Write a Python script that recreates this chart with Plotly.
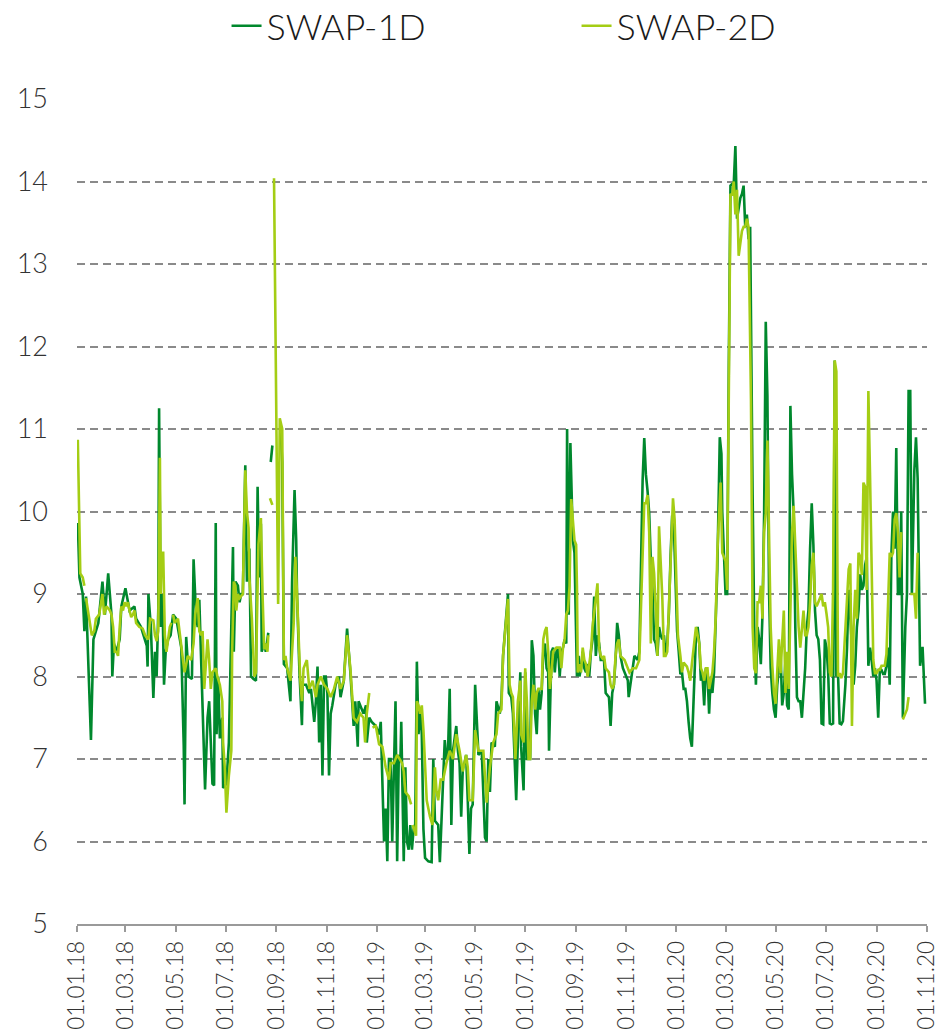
import plotly.graph_objects as go

# SWAP-1D observations (date, value)
dates_1d = [
    "2018-01-02", "2018-01-04", "2018-01-08", "2018-01-10", "2018-01-12", "2018-01-18", "2018-01-21", "2018-01-27",
    "2018-02-01", "2018-02-04", "2018-02-08", "2018-02-12", "2018-02-13", "2018-02-15", "2018-02-18", "2018-02-22",
    "2018-02-24", "2018-03-01", "2018-03-06", "2018-03-12", "2018-03-14", "2018-03-20", "2018-03-27", "2018-03-28",
    "2018-03-29", "2018-04-01", "2018-04-04", "2018-04-06", "2018-04-08", "2018-04-10", "2018-04-11", "2018-04-13",
    "2018-04-15", "2018-04-17", "2018-04-19", "2018-04-22", "2018-04-25", "2018-04-28", "2018-05-02", "2018-05-08",
    "2018-05-11", "2018-05-12", "2018-05-14", "2018-05-17", "2018-05-21", "2018-05-23", "2018-05-26", "2018-05-28",
    "2018-05-30", "2018-06-01", "2018-06-03", "2018-06-06", "2018-06-09", "2018-06-11", "2018-06-13", "2018-06-15",
    "2018-06-17", "2018-06-19", "2018-06-20", "2018-06-22", "2018-06-24", "2018-06-27", "2018-06-28", "2018-07-02",
    "2018-07-05", "2018-07-10", "2018-07-11", "2018-07-13", "2018-07-16", "2018-07-18", "2018-07-20", "2018-07-22",
    "2018-07-25", "2018-07-27", "2018-07-30", "2018-08-01", "2018-08-04", "2018-08-07", "2018-08-09", "2018-08-11",
    "2018-08-13", "2018-08-14", "2018-08-17", "2018-08-19", "2018-08-21", "2018-08-22", "2018-08-23", "2018-08-25",
    "2018-08-27", "2018-08-29", "2018-09-06", "2018-09-08", "2018-09-10", "2018-09-14", "2018-09-18", "2018-09-20",
    "2018-09-23", "2018-09-25", "2018-09-26", "2018-09-29", "2018-10-02", "2018-10-03", "2018-10-07", "2018-10-11",
    "2018-10-13", "2018-10-15", "2018-10-17", "2018-10-19", "2018-10-21", "2018-10-23", "2018-10-25", "2018-10-27",
    "2018-10-29", "2018-10-31", "2018-11-02", "2018-11-04", "2018-11-06", "2018-11-08", "2018-11-12", "2018-11-16",
    "2018-11-18", "2018-11-22", "2018-11-26", "2018-11-30", "2018-12-04", "2018-12-06", "2018-12-09", "2018-12-10",
    "2018-12-14", "2018-12-16", "2018-12-19", "2018-12-20", "2018-12-23", "2018-12-26", "2018-12-31",
    "2019-01-04", "2019-01-06", "2019-01-08", "2019-01-10", "2019-01-12", "2019-01-14", "2019-01-16", "2019-01-18",
    "2019-01-20", "2019-01-22", "2019-01-24", "2019-01-26", "2019-01-28", "2019-01-30", "2019-01-31", "2019-02-03",
    "2019-02-05", "2019-02-07", "2019-02-09", "2019-02-11", "2019-02-13", "2019-02-15", "2019-02-17", "2019-02-19",
    "2019-02-21", "2019-02-23", "2019-02-25", "2019-02-27", "2019-03-01", "2019-03-05", "2019-03-09", "2019-03-11",
    "2019-03-13", "2019-03-17", "2019-03-19", "2019-03-23", "2019-03-25", "2019-03-27", "2019-03-29", "2019-03-31",
    "2019-04-02", "2019-04-04", "2019-04-08", "2019-04-10", "2019-04-12", "2019-04-14", "2019-04-16", "2019-04-18",
    "2019-04-20", "2019-04-22", "2019-04-24", "2019-04-26", "2019-04-28", "2019-05-01", "2019-05-05", "2019-05-09",
    "2019-05-13", "2019-05-15", "2019-05-17", "2019-05-19", "2019-05-21", "2019-05-25", "2019-05-27", "2019-05-31",
    "2019-06-02", "2019-06-04", "2019-06-06", "2019-06-08", "2019-06-10", "2019-06-11", "2019-06-14", "2019-06-16",
    "2019-06-18", "2019-06-20", "2019-06-22", "2019-06-25", "2019-06-26", "2019-06-29", "2019-07-01", "2019-07-03",
    "2019-07-07", "2019-07-09", "2019-07-11", "2019-07-13", "2019-07-15", "2019-07-17", "2019-07-19", "2019-07-21",
    "2019-07-23", "2019-07-25", "2019-07-27", "2019-07-29", "2019-07-30", "2019-08-02", "2019-08-04", "2019-08-06",
    "2019-08-08", "2019-08-10", "2019-08-12", "2019-08-14", "2019-08-16", "2019-08-18", "2019-08-20", "2019-08-21",
    "2019-08-23", "2019-08-25", "2019-08-28", "2019-08-30", "2019-09-02", "2019-09-04", "2019-09-05", "2019-09-07",
    "2019-09-09", "2019-09-11", "2019-09-13", "2019-09-15", "2019-09-17", "2019-09-19", "2019-09-21", "2019-09-23",
    "2019-09-25", "2019-09-27", "2019-09-29", "2019-10-01", "2019-10-05", "2019-10-07", "2019-10-11", "2019-10-13",
    "2019-10-15", "2019-10-17", "2019-10-19", "2019-10-21", "2019-10-23", "2019-10-25", "2019-10-28", "2019-10-30",
    "2019-11-01", "2019-11-03", "2019-11-04", "2019-11-06", "2019-11-08", "2019-11-11", "2019-11-15", "2019-11-17",
    "2019-11-19", "2019-11-21", "2019-11-23", "2019-11-25", "2019-11-27", "2019-11-29", "2019-12-01", "2019-12-03",
    "2019-12-05", "2019-12-07", "2019-12-09", "2019-12-11", "2019-12-13", "2019-12-15", "2019-12-17", "2019-12-19",
    "2019-12-21", "2019-12-23", "2019-12-25", "2019-12-27", "2019-12-29", "2019-12-31",
    "2020-01-02", "2020-01-04", "2020-01-06", "2020-01-08", "2020-01-10", "2020-01-12", "2020-01-14", "2020-01-16",
    "2020-01-18", "2020-01-20", "2020-01-23", "2020-01-25", "2020-01-27", "2020-01-29", "2020-01-31", "2020-02-02",
    "2020-02-04", "2020-02-06", "2020-02-08", "2020-02-10", "2020-02-12", "2020-02-14", "2020-02-16", "2020-02-18",
    "2020-02-20", "2020-02-22", "2020-02-23", "2020-02-25", "2020-02-26", "2020-02-28", "2020-03-01", "2020-03-03",
    "2020-03-04", "2020-03-05", "2020-03-07", "2020-03-09", "2020-03-11", "2020-03-13", "2020-03-15", "2020-03-17",
    "2020-03-19", "2020-03-21", "2020-03-23", "2020-03-25", "2020-03-27", "2020-03-29", "2020-03-31", "2020-04-03",
    "2020-04-05", "2020-04-07", "2020-04-09", "2020-04-11", "2020-04-13", "2020-04-15", "2020-04-17", "2020-04-19",
    "2020-04-21", "2020-04-23", "2020-04-25", "2020-04-27", "2020-04-29", "2020-05-01", "2020-05-03", "2020-05-05",
    "2020-05-07", "2020-05-09", "2020-05-11", "2020-05-13", "2020-05-15", "2020-05-17", "2020-05-19", "2020-05-21",
    "2020-05-23", "2020-05-25", "2020-05-27", "2020-05-29", "2020-05-31", "2020-06-02", "2020-06-04", "2020-06-06",
    "2020-06-08", "2020-06-10", "2020-06-12", "2020-06-14", "2020-06-16", "2020-06-18", "2020-06-20", "2020-06-22",
    "2020-06-24", "2020-06-26", "2020-06-28", "2020-06-30", "2020-07-02", "2020-07-04", "2020-07-06", "2020-07-08",
    "2020-07-10", "2020-07-12", "2020-07-14", "2020-07-16", "2020-07-18", "2020-07-20", "2020-07-22", "2020-07-25",
    "2020-07-27", "2020-07-29", "2020-07-31", "2020-08-02", "2020-08-04", "2020-08-06", "2020-08-08", "2020-08-10",
    "2020-08-12", "2020-08-14", "2020-08-16", "2020-08-18", "2020-08-20", "2020-08-22", "2020-08-24", "2020-08-26",
    "2020-08-28", "2020-08-30", "2020-09-01", "2020-09-03", "2020-09-05", "2020-09-07", "2020-09-09", "2020-09-11",
    "2020-09-13", "2020-09-15", "2020-09-17", "2020-09-19", "2020-09-21", "2020-09-23", "2020-09-25", "2020-09-27",
    "2020-09-29", "2020-10-01", "2020-10-03", "2020-10-06", "2020-10-08", "2020-10-10", "2020-10-12", "2020-10-14",
    "2020-10-17", "2020-10-19", "2020-10-21", "2020-10-24", "2020-10-27", "2020-10-30",
]
swap_1d = [
    9.86, 9.2, 9.0, 8.55, 8.97, 7.23, 8.45, 8.65,
    9.15, 8.75, 9.25, 8.75, 8.0, 8.4, 8.3, 8.45,
    8.85, 9.07, 8.8, 8.85, 8.7, 8.6, 8.37, 8.12,
    9.0, 8.6, 7.74, 8.3, 8.0, 8.8, 11.25, 8.6,
    9.0, 7.9, 8.3, 8.45, 8.5, 8.75, 8.7, 8.35,
    7.17, 6.45, 8.48, 8.0, 7.97, 9.42, 8.75, 8.6,
    8.93, 8.35, 7.62, 6.63, 7.5, 7.7, 7.2, 6.7,
    6.68, 9.86, 7.3, 8.0, 7.25, 7.5, 6.65, 6.7,
    7.2, 9.57, 8.3, 9.15, 9.1, 8.9, 9.0, 9.0,
    10.56, 9.15, 9.55, 8.0, 7.97, 7.95, 10.3, 9.2,
    9.85, 8.3, 8.4, 8.3, 8.45, 8.53, None, 10.6,
    10.8, None, 11.0, 10.6, 8.15, 8.1, 7.7, 9.15,
    10.26, 9.66, 9.0, 8.05, 7.41, 7.9, 7.9, 7.8,
    7.85, 7.6, 7.45, 7.7, 8.12, 7.2, 7.9, 6.8,
    8.0, 8.0, 7.8, 6.8, 7.55, 7.65, 7.9, 8.0,
    7.75, 7.95, 8.58, 8.05, 7.4, 7.7, 7.15, 7.7,
    7.6, 7.55, 7.65, 7.2, 7.5, 7.45, 7.4,
    7.3, 7.45, 6.55, 6.0, 6.4, 5.76, 7.0, 7.0,
    6.0, 7.0, 7.7, 5.76, 7.05, 7.0, 7.45, 5.76,
    6.9, 6.0, 5.9, 6.2, 5.9, 6.15, 6.2, 8.18,
    7.3, 7.6, 7.3, 6.15, 5.8, 5.76, 5.75, 7.0,
    6.25, 6.2, 5.75, 6.75, 7.23, 7.0, 7.1, 7.85,
    6.2, 7.1, 7.4, 7.1, 6.95, 6.3, 6.9, 6.95,
    7.05, 6.5, 5.85, 6.4, 6.45, 7.9, 7.05, 7.1,
    6.05, 6.0, 7.0, 6.6, 7.2, 7.15, 7.7, 7.55,
    7.7, 8.25, 8.5, 8.77, 9.0, 7.8, 7.75, 7.55,
    6.95, 6.5, 7.2, 8.05, 7.15, 6.62, 8.05, 7.0,
    7.0, 8.44, 8.25, 7.55, 7.3, 7.85, 7.6, 7.8,
    8.3, 8.4, 8.1, 8.05, 7.1, 8.3, 8.35, 8.05,
    8.3, 8.35, 8.0, 8.3, 8.35, 8.45, 8.4, 11.0,
    8.75, 10.83, 9.65, 9.5, 8.0, 8.25, 8.0, 8.1,
    8.3, 8.1, 8.05, 8.15, 8.0, 8.3, 8.45, 8.97,
    8.25, 8.5, 8.4, 8.2, 8.2, 7.8, 7.75, 7.4,
    7.8, 7.9, 8.2, 8.65, 8.5, 8.25, 8.1, 8.05,
    8.0, 7.95, 7.75, 7.9, 8.05, 8.25, 8.2, 8.3,
    9.33, 10.38, 10.89, 10.45, 10.25, 9.98, 9.4, 9.05,
    8.45, 8.4, 8.25, 8.6, 8.5, 8.45, 8.5, 8.25,
    8.4, 8.77, 9.45, 9.95, 9.85, 9.25,
    8.55, 8.3, 8.03, 8.05, 7.85, 7.85, 7.7, 7.45,
    7.25, 7.15, 8.05, 8.5, 8.6, 8.4, 7.95, 8.0,
    7.65, 8.1, 8.05, 7.55, 8.0, 7.8, 8.05, 8.6,
    9.3, 10.35, 10.9, 10.7, 10.0, 9.5, 9.0, 9.0,
    10.0, 11.8, 13.95, 13.97, 13.97, 14.43, 13.55, 13.7,
    13.8, 13.85, 13.95, 13.45, 13.6, 13.3, 13.45, 10.2,
    8.6, 7.9, 8.6, 8.45, 8.15, 8.75, 9.95, 12.3,
    11.4, 9.05, 8.1, 7.8, 7.6, 7.5, 7.9, 8.1,
    8.3, 7.65, 7.8, 8.2, 7.65, 7.6, 11.28, 10.45,
    9.98, 8.6, 7.75, 7.7, 7.7, 7.5, 7.8, 8.1,
    8.6, 8.8, 9.55, 10.1, 9.6, 8.8, 8.5, 8.45,
    8.2, 7.43, 7.42, 8.45, 8.35, 8.05, 7.43, 7.42,
    7.43, 11.83, 8.0, 8.04, 7.43, 7.42, 7.46, 7.9,
    8.35, 9.05, 8.75, 8.35, 7.9, 8.13, 8.6, 8.8,
    9.24, 9.05, 9.1, 9.35, 9.45, 8.13, 8.35, 8.2,
    8.0, 8.1, 7.95, 7.5, 8.1, 8.08, 8.03, 8.03,
    8.13, 8.35, 7.9, 9.47, 10.0, 9.55, 10.77, 9.0,
    9.0, 10.0, 7.5, 8.6, 9.0, 11.46, 11.46, 9.0,
    10.5, 10.9, 10.4, 8.13, 8.36, 7.67,
]

# SWAP-2D observations (date, value)
dates_2d = [
    "2018-01-02", "2018-01-05", "2018-01-08", "2018-01-10", "2018-01-11", "2018-01-12", "2018-01-16", "2018-01-19",
    "2018-01-22", "2018-01-24", "2018-01-28", "2018-02-01", "2018-02-03", "2018-02-06", "2018-02-10", "2018-02-12",
    "2018-02-14", "2018-02-16", "2018-02-18", "2018-02-20", "2018-02-22", "2018-02-24", "2018-02-26", "2018-02-28",
    "2018-03-02", "2018-03-04", "2018-03-06", "2018-03-08", "2018-03-10", "2018-03-12", "2018-03-14", "2018-03-18",
    "2018-03-22", "2018-03-25", "2018-03-29", "2018-03-31", "2018-04-04", "2018-04-06", "2018-04-08", "2018-04-10",
    "2018-04-12", "2018-04-13", "2018-04-14", "2018-04-16", "2018-04-18", "2018-04-20", "2018-04-22", "2018-04-24",
    "2018-04-26", "2018-04-27", "2018-04-28", "2018-04-30", "2018-05-04", "2018-05-08", "2018-05-12", "2018-05-16",
    "2018-05-20", "2018-05-23", "2018-05-25", "2018-05-28", "2018-05-30", "2018-06-01", "2018-06-03", "2018-06-05",
    "2018-06-07", "2018-06-09", "2018-06-11", "2018-06-13", "2018-06-15", "2018-06-19", "2018-06-21", "2018-06-24",
    "2018-06-27", "2018-06-28", "2018-06-30", "2018-07-02", "2018-07-05", "2018-07-08", "2018-07-09", "2018-07-11",
    "2018-07-13", "2018-07-14", "2018-07-16", "2018-07-18", "2018-07-22", "2018-07-23", "2018-07-25", "2018-07-27",
    "2018-07-29", "2018-07-30", "2018-08-02", "2018-08-05", "2018-08-07", "2018-08-10", "2018-08-13", "2018-08-15",
    "2018-08-17", "2018-08-19", "2018-08-21", "2018-08-22", "2018-08-23", "2018-08-24", "2018-08-27", "2018-08-28",
    "2018-08-29", "2018-09-03", "2018-09-05", "2018-09-08", "2018-09-10", "2018-09-12", "2018-09-14", "2018-09-18",
    "2018-09-22", "2018-09-24", "2018-09-26", "2018-09-30", "2018-10-02", "2018-10-04", "2018-10-08", "2018-10-11",
    "2018-10-15", "2018-10-17", "2018-10-19", "2018-10-21", "2018-10-25", "2018-10-29", "2018-11-02", "2018-11-06",
    "2018-11-10", "2018-11-14", "2018-11-18", "2018-11-22", "2018-11-26", "2018-11-30", "2018-12-04", "2018-12-08",
    "2018-12-12", "2018-12-16", "2018-12-18", "2018-12-20", "2018-12-23", "2018-12-25", "2018-12-27", "2018-12-31",
    "2019-01-04", "2019-01-08", "2019-01-12", "2019-01-16", "2019-01-18", "2019-01-22", "2019-01-26", "2019-01-29",
    "2019-02-01", "2019-02-03", "2019-02-05", "2019-02-09", "2019-02-12", "2019-02-13", "2019-02-14", "2019-02-18",
    "2019-02-19", "2019-02-21", "2019-02-23", "2019-02-25", "2019-02-27", "2019-03-01", "2019-03-03", "2019-03-07",
    "2019-03-10", "2019-03-13", "2019-03-15", "2019-03-17", "2019-03-20", "2019-03-23", "2019-03-27", "2019-03-31",
    "2019-04-04", "2019-04-08", "2019-04-12", "2019-04-16", "2019-04-20", "2019-04-22", "2019-04-24", "2019-04-28",
    "2019-05-01", "2019-05-05", "2019-05-11", "2019-05-15", "2019-05-19", "2019-05-23", "2019-05-27", "2019-05-29",
    "2019-06-02", "2019-06-04", "2019-06-06", "2019-06-08", "2019-06-10", "2019-06-12", "2019-06-14", "2019-06-16",
    "2019-06-19", "2019-06-21", "2019-06-22", "2019-06-25", "2019-06-26", "2019-06-29", "2019-07-01", "2019-07-03",
    "2019-07-05", "2019-07-07", "2019-07-09", "2019-07-11", "2019-07-13", "2019-07-15", "2019-07-17", "2019-07-21",
    "2019-07-23", "2019-07-25", "2019-07-27", "2019-07-29", "2019-07-31", "2019-08-02", "2019-08-04", "2019-08-08",
    "2019-08-12", "2019-08-14", "2019-08-16", "2019-08-18", "2019-08-20", "2019-08-22", "2019-08-24", "2019-08-26",
    "2019-08-28", "2019-08-30", "2019-09-01", "2019-09-02", "2019-09-03", "2019-09-05", "2019-09-07", "2019-09-09",
    "2019-09-11", "2019-09-13", "2019-09-15", "2019-09-17", "2019-09-19", "2019-09-21", "2019-09-23", "2019-09-25",
    "2019-09-27", "2019-09-29", "2019-10-01", "2019-10-03", "2019-10-05", "2019-10-07", "2019-10-11", "2019-10-13",
    "2019-10-15", "2019-10-17", "2019-10-19", "2019-10-21", "2019-10-23", "2019-10-25", "2019-10-30", "2019-11-03",
    "2019-11-05", "2019-11-09", "2019-11-13", "2019-11-17", "2019-11-19", "2019-11-21", "2019-11-23", "2019-11-25",
    "2019-11-27", "2019-11-29", "2019-12-01", "2019-12-03", "2019-12-05", "2019-12-07", "2019-12-09", "2019-12-11",
    "2019-12-13", "2019-12-15", "2019-12-17", "2019-12-19", "2019-12-21", "2019-12-23", "2019-12-25", "2019-12-28",
    "2019-12-30",
    "2020-01-01", "2020-01-03", "2020-01-06", "2020-01-08", "2020-01-10", "2020-01-12", "2020-01-14", "2020-01-16",
    "2020-01-18", "2020-01-20", "2020-01-23", "2020-01-25", "2020-01-27", "2020-01-29", "2020-01-31", "2020-02-02",
    "2020-02-04", "2020-02-06", "2020-02-08", "2020-02-10", "2020-02-12", "2020-02-14", "2020-02-16", "2020-02-18",
    "2020-02-20", "2020-02-22", "2020-02-24", "2020-02-26", "2020-02-28", "2020-03-01", "2020-03-03", "2020-03-05",
    "2020-03-07", "2020-03-09", "2020-03-11", "2020-03-13", "2020-03-15", "2020-03-17", "2020-03-19", "2020-03-21",
    "2020-03-23", "2020-03-25", "2020-03-27", "2020-03-29", "2020-04-01", "2020-04-03", "2020-04-05", "2020-04-07",
    "2020-04-09", "2020-04-11", "2020-04-13", "2020-04-15", "2020-04-17", "2020-04-19", "2020-04-21", "2020-04-23",
    "2020-04-25", "2020-04-27", "2020-04-29", "2020-05-01", "2020-05-03", "2020-05-05", "2020-05-07", "2020-05-09",
    "2020-05-11", "2020-05-13", "2020-05-15", "2020-05-17", "2020-05-19", "2020-05-21", "2020-05-23", "2020-05-25",
    "2020-05-27", "2020-05-29", "2020-05-31", "2020-06-02", "2020-06-04", "2020-06-06", "2020-06-08", "2020-06-10",
    "2020-06-12", "2020-06-14", "2020-06-16", "2020-06-18", "2020-06-20", "2020-06-22", "2020-06-24", "2020-06-26",
    "2020-06-28", "2020-06-30", "2020-07-02", "2020-07-04", "2020-07-06", "2020-07-08", "2020-07-10", "2020-07-12",
    "2020-07-14", "2020-07-16", "2020-07-18", "2020-07-20", "2020-07-22", "2020-07-25", "2020-07-27", "2020-07-29",
    "2020-07-31", "2020-08-02", "2020-08-04", "2020-08-06", "2020-08-08", "2020-08-10", "2020-08-12", "2020-08-14",
    "2020-08-16", "2020-08-18", "2020-08-20", "2020-08-22", "2020-08-24", "2020-08-26", "2020-08-28", "2020-08-30",
    "2020-09-01", "2020-09-03", "2020-09-05", "2020-09-07", "2020-09-09", "2020-09-11", "2020-09-13", "2020-09-15",
    "2020-09-17", "2020-09-19", "2020-09-21", "2020-09-23", "2020-09-25", "2020-09-27", "2020-09-29", "2020-10-01",
    "2020-10-02", "2020-10-03", "2020-10-08", "2020-10-10", "2020-10-11", "2020-10-12", "2020-10-14", "2020-10-17",
    "2020-10-19", "2020-10-21",
]
swap_2d = [
    10.87, 9.25, 9.2, 9.1, None, 8.95, 8.7, 8.5,
    8.55, 8.7, 8.75, 9.0, 8.75, 8.85, 8.8, 8.75,
    8.6, 8.3, 8.3, 8.25, 8.6, 8.85, 8.8, 8.9,
    8.85, 8.9, 8.8, 8.72, 8.75, 8.8, 8.65, 8.6,
    8.58, 8.5, 8.45, 8.7, 8.68, 8.5, 8.43, 8.55,
    10.65, 9.0, 9.5, 9.5, 8.5, 8.3, 8.45, 8.6,
    8.65, None, 8.75, 8.65, 8.7, 8.4, 8.05, 8.25,
    8.2, 8.4, 8.75, 8.95, 8.55, 8.5, 8.55, 7.85,
    8.1, 8.45, 8.2, 7.85, 8.05, 8.1, 8.0, 7.9,
    7.7, 7.2, 6.9, 6.35, 6.8, 7.1, 8.3, 9.15,
    9.1, 8.8, 9.0, 8.95, 9.0, 9.5, 10.5, 10.0,
    9.8, 9.2, 8.7, 8.0, 8.05, 9.6, 9.92, 9.0,
    8.33, 8.4, 8.3, 8.5, None, 10.16, 10.08, None,
    14.04, 8.88, 11.13, 11.0, 8.2, 8.25, 8.1, 7.95,
    8.65, 9.45, 9.0, 7.95, 7.7, 8.1, 8.2, 7.85,
    7.95, 7.85, 7.75, 7.9, 8.0, 7.9, 7.85, 7.75,
    7.85, 8.0, 7.85, 7.95, 8.5, 8.1, 7.5, 7.45,
    7.55, 7.5, 7.2, 7.55, 7.8, None, 7.38, 7.4,
    7.18, 7.15, 6.9, 6.75, 6.95, 6.95, 7.05, 7.0,
    6.95, 6.85, 6.6, 6.55, 6.45, None, 6.2, 6.07,
    7.7, 7.65, 7.55, 7.65, 7.35, 6.9, 6.5, 6.3,
    6.2, 6.9, 6.6, 6.5, 6.75, 6.75, 6.95, 7.1,
    7.0, 7.3, 7.1, 6.85, 7.05, 6.9, 6.5, 6.5,
    7.35, 7.1, 7.1, 6.47, 6.9, 7.2, 7.3, 7.55,
    7.6, 8.25, 8.45, 8.65, 8.94, 7.9, 7.8, 7.75,
    7.0, 7.45, 7.7, 7.95, 7.3, 7.2, 8.1, 7.7,
    7.0, 7.0, 7.7, 7.9, 7.6, 7.8, 7.85, 7.85,
    8.45, 8.55, 8.6, 8.3, 7.85, 8.05, 8.3, 8.35,
    8.35, 8.1, 8.35, 8.45, 8.75, 8.8, 9.1, 10.15,
    9.9, 9.65, 9.6, 9.1, 8.05, 8.15, 8.05, 8.35,
    8.2, 8.15, 8.0, 8.15, 8.3, 8.6, 8.75, 8.95,
    9.13, 8.35, 8.25, 8.22, 8.25, 8.1, 8.05, 7.9,
    7.85, 7.9, 8.25, 8.4, 8.45, 8.25, 8.2, 8.1,
    8.05, 8.1, 8.1, 8.2, 8.95, 9.5, 10.1, 10.1,
    10.2, 9.75, 8.4, 9.45, 9.25, 8.8, 8.25, 9.82,
    9.35, 8.95, 8.25, 8.25, 8.3, 8.8, 9.5, 10.16,
    9.9,
    9.25, 8.5, 8.25, 8.05, 8.17, 8.15, 8.12, 8.05,
    7.95, 8.15, 8.4, 8.6, 8.5, 8.4, 8.1, 8.05,
    7.95, 8.1, 8.1, 7.85, 7.95, 8.05, 8.3, 8.7,
    9.5, 10.0, 10.35, 9.5, 9.45, 9.4, 9.05, 11.5,
    13.85, 13.83, 14.0, 13.6, 13.9, 13.1, 13.25, 13.4,
    13.45, 13.45, 13.55, 13.45, 11.35, 8.6, 8.1, 8.04,
    8.9, 8.9, 9.1, 8.7, 9.75, 9.98, 10.86, 9.5,
    8.6, 8.13, 7.8, 7.67, 8.04, 8.45, 8.04, 8.45,
    8.8, 7.8, 8.3, 7.85, 8.65, 9.75, 10.07, 9.55,
    9.05, 8.6, 8.35, 8.6, 8.8, 8.5, 8.5, 8.6,
    8.9, 9.35, 9.5, 8.9, 8.85, 8.9, 8.95, 9.0,
    8.85, 8.9, 8.76, 8.6, 8.05, 8.0, 9.05, 11.83,
    11.7, 8.0, 8.04, 7.98, 8.04, 8.6, 9.05, 9.3,
    9.37, 7.4, 8.6, 9.05, 8.7, 9.5, 9.45, 9.23,
    10.35, 10.3, 9.05, 11.46, 10.45, 9.5, 8.2, 8.04,
    8.04, 8.08, 8.08, 8.13, 8.13, 8.13, 8.27, 9.05,
    9.5, 9.45, 9.5, 9.9, 9.98, 9.75, 9.2, 9.75,
    None, 7.48, 7.6, 7.75, None, 9.0, 9.0, 9.0,
    8.7, 9.5,
]

# Axis ticks: every second month
tick_dates = [
    "2018-01-01", "2018-03-01", "2018-05-01", "2018-07-01", "2018-09-01", "2018-11-01",
    "2019-01-01", "2019-03-01", "2019-05-01", "2019-07-01", "2019-09-01", "2019-11-01",
    "2020-01-01", "2020-03-01", "2020-05-01", "2020-07-01", "2020-09-01", "2020-11-01",
]
tick_labels = [
    "01.01.18", "01.03.18", "01.05.18", "01.07.18", "01.09.18", "01.11.18",
    "01.01.19", "01.03.19", "01.05.19", "01.07.19", "01.09.19", "01.11.19",
    "01.01.20", "01.03.20", "01.05.20", "01.07.20", "01.09.20", "01.11.20",
]

DARK_GREEN = "#00882D"
LIGHT_GREEN = "#A4CD14"
FONT = "Lato"

fig = go.Figure()
fig.add_trace(go.Scatter(
    x=dates_1d, y=swap_1d, mode="lines", name="SWAP-1D",
    line=dict(color=DARK_GREEN, width=2.6), connectgaps=False,
))
fig.add_trace(go.Scatter(
    x=dates_2d, y=swap_2d, mode="lines", name="SWAP-2D",
    line=dict(color=LIGHT_GREEN, width=2.6), connectgaps=False,
))

fig.update_layout(
    width=940, height=1034,
    margin=dict(l=77, r=13, t=99, b=110, autoexpand=False),
    paper_bgcolor="white", plot_bgcolor="white",
    showlegend=True,
    legend=dict(
        orientation="h", xref="container", yref="container",
        x=0.241, xanchor="left", y=0.975, yanchor="middle",
        font=dict(family=FONT, size=36, color="#1a1a1a", weight=300),
        entrywidth=305, itemwidth=30, bgcolor="rgba(0,0,0,0)",
    ),
)

fig.update_xaxes(
    type="date", range=["2018-01-01", "2020-11-01 10:00"],
    tickmode="array", tickvals=tick_dates, ticktext=tick_labels,
    tickangle=-90, ticks="outside", ticklen=6, tickwidth=1.5, tickcolor="#9a9a9a",
    showline=True, linecolor="#9a9a9a", linewidth=2,
    showgrid=False, zeroline=False, automargin=False,
    ticklabeloverflow="allow",
    tickfont=dict(family=FONT, size=22.5, color="#333333", weight=300),
)
fig.update_yaxes(
    range=[5, 15], tick0=5, dtick=1,
    showgrid=True, gridcolor="#8a8a8a", gridwidth=1.8, griddash="8px,5px",
    zeroline=False, showline=False, ticks="", automargin=False,
    ticklabelstandoff=28,
    tickfont=dict(family=FONT, size=27, color="#333333", weight=300),
)

fig.write_html("out.html")
